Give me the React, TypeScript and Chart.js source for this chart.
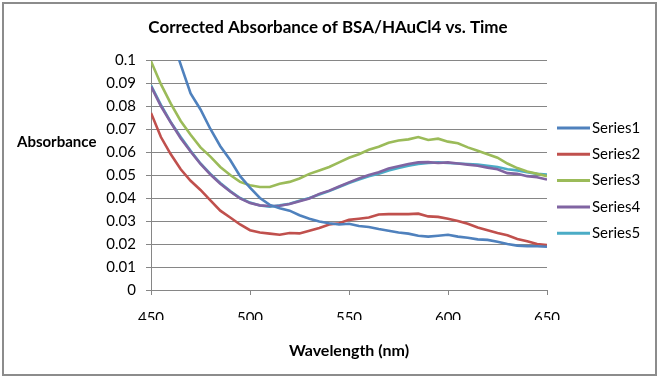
import React, { useEffect, useRef } from "react";
import { Chart, registerables } from "chart.js";

Chart.register(...registerables);

const TITLE = "Corrected Absorbance of BSA/HAuCl4 vs. Time";
const X_TITLE = "Wavelength (nm)";
const Y_TITLE = "Absorbance";

const wavelengths = [
  450, 455, 460, 465, 470, 475, 480, 485, 490, 495, 500, 505, 510, 515, 520, 525, 530, 535, 540, 545,
  550, 555, 560, 565, 570, 575, 580, 585, 590, 595, 600, 605, 610, 615, 620, 625, 630, 635, 640, 645, 650,
];

const series1 = [
  0.137, 0.124, 0.111, 0.098, 0.0855, 0.0785, 0.07, 0.0625, 0.0565, 0.0495, 0.0445, 0.04, 0.037, 0.0355,
  0.0345, 0.0325, 0.031, 0.0298, 0.029, 0.0285, 0.0288, 0.0278, 0.0274, 0.0265, 0.0258, 0.025, 0.0245,
  0.0236, 0.0232, 0.0236, 0.024, 0.0232, 0.0227, 0.022, 0.0218, 0.021, 0.02, 0.0193, 0.019, 0.019, 0.0188,
];
const series2 = [
  0.077, 0.0665, 0.059, 0.0525, 0.0475, 0.0435, 0.039, 0.0345, 0.0315, 0.0285, 0.026, 0.025, 0.0245, 0.024,
  0.0248, 0.0246, 0.0258, 0.027, 0.0285, 0.029, 0.0305, 0.031, 0.0315, 0.0328, 0.033, 0.033, 0.033, 0.0332,
  0.032, 0.0318, 0.031, 0.03, 0.0288, 0.0272, 0.026, 0.0248, 0.0238, 0.0222, 0.0212, 0.02, 0.0195,
];
const series3 = [
  0.0995, 0.0895, 0.081, 0.0735, 0.0675, 0.062, 0.058, 0.0535, 0.05, 0.047, 0.0455, 0.0448, 0.0448, 0.0462,
  0.047, 0.0485, 0.0505, 0.052, 0.0535, 0.0555, 0.0575, 0.059, 0.061, 0.0623, 0.064, 0.065, 0.0655, 0.0665,
  0.0652, 0.0658, 0.0645, 0.0638, 0.062, 0.0605, 0.059, 0.0575, 0.055, 0.053, 0.0515, 0.0505, 0.0495,
];
const series4 = [
  0.0885, 0.08, 0.0728, 0.066, 0.0602, 0.0548, 0.0502, 0.0462, 0.0428, 0.0398, 0.0378, 0.0368, 0.0365,
  0.0366, 0.0374, 0.0386, 0.0398, 0.0418, 0.0432, 0.045, 0.0468, 0.0485, 0.05, 0.0512, 0.0528, 0.0538,
  0.0548, 0.0555, 0.0556, 0.0552, 0.0555, 0.055, 0.0545, 0.054, 0.0532, 0.0525, 0.0508, 0.0505, 0.0495,
  0.049, 0.048,
];
const series5 = [
  0.089, 0.0805, 0.073, 0.0665, 0.0605, 0.055, 0.0505, 0.0465, 0.043, 0.04, 0.038, 0.0367, 0.0362, 0.0368,
  0.0375, 0.0388, 0.04, 0.0415, 0.043, 0.0448, 0.0465, 0.048, 0.0495, 0.0505, 0.052, 0.053, 0.054, 0.0548,
  0.0552, 0.0555, 0.0552, 0.055, 0.0548, 0.0545, 0.054, 0.0535, 0.0525, 0.052, 0.0512, 0.0505, 0.0502,
];

const seriesNames = ["Series1", "Series2", "Series3", "Series4", "Series5"];
const seriesValues = [series1, series2, series3, series4, series5];
const seriesColors = ["#4F81BD", "#C0504D", "#9BBB59", "#8064A2", "#4BACC6"];

const FONT = "Lato, 'Open Sans', sans-serif";
const GRID = "#868686";

const decorPlugin = {
  id: "decor",
  beforeDraw(chart: any) {
    const { ctx, width, height } = chart;
    ctx.save();
    ctx.fillStyle = "#ffffff";
    ctx.fillRect(0, 0, width, height);
    ctx.restore();
  },
  afterDraw(chart: any) {
    const { ctx, chartArea } = chart;
    ctx.save();
    // frame
    ctx.strokeStyle = "#8c8c8c";
    ctx.lineWidth = 2;
    ctx.strokeRect(3, 3, 653, 372);
    // title
    ctx.fillStyle = "#000000";
    ctx.textAlign = "center";
    ctx.textBaseline = "middle";
    ctx.font = `bold 17px ${FONT}`;
    ctx.fillText(TITLE, 328, 28);
    // x title
    ctx.font = `bold 16px ${FONT}`;
    ctx.fillText(X_TITLE, (chartArea.left + chartArea.right) / 2, 351);
    // y title (horizontal)
    ctx.font = `bold 15px ${FONT}`;
    ctx.textAlign = "left";
    ctx.fillText(Y_TITLE, 17, 142);
    // legend
    ctx.font = `15px ${FONT}`;
    chart.data.datasets.forEach((ds: any, i: number) => {
      const y = 128 + i * 26.3;
      ctx.strokeStyle = ds.borderColor;
      ctx.lineWidth = 3;
      ctx.beginPath();
      ctx.moveTo(557, y);
      ctx.lineTo(590, y);
      ctx.stroke();
      ctx.fillStyle = "#000000";
      ctx.textAlign = "left";
      ctx.fillText(ds.label, 592, y);
    });
    ctx.restore();
  },
};

export default function App() {
  const ref = useRef<HTMLCanvasElement | null>(null);
  useEffect(() => {
    document.body.style.margin = "0";
    const canvas = ref.current!;
    const chart = new Chart(canvas, {
      type: "line",
      data: {
        datasets: seriesNames.map((name, i) => ({
          label: name,
          data: wavelengths.map((w, j) => ({ x: w, y: seriesValues[i][j] })),
          borderColor: seriesColors[i],
          backgroundColor: seriesColors[i],
          borderWidth: 2.6,
          pointRadius: 0,
          tension: 0,
          fill: false,
        })),
      },
      options: {
        responsive: false,
        animation: false,
        devicePixelRatio: 1,
        layout: { padding: { left: 81, top: 60, right: 112, bottom: 58 } },
        plugins: {
          legend: { display: false },
          title: { display: false },
          tooltip: { enabled: false },
        },
        scales: {
          x: {
            type: "linear",
            min: 450,
            max: 650,
            afterFit: (s: any) => {
              s.height = 30;
            },
            ticks: {
              stepSize: 50,
              color: "#000000",
              font: { family: FONT, size: 15 },
              padding: 14,
              maxRotation: 0,
            },
            grid: { drawOnChartArea: false, drawTicks: true, tickLength: 5, color: GRID },
            border: { display: true, color: GRID, width: 1 },
          },
          y: {
            min: 0,
            max: 0.1,
            afterFit: (s: any) => {
              s.width = 70;
            },
            ticks: {
              stepSize: 0.01,
              color: "#000000",
              font: { family: FONT, size: 15 },
              padding: 10,
              callback: (v: any) => String(parseFloat(Number(v).toFixed(2))),
            },
            grid: { color: GRID, tickLength: 5, drawTicks: true },
            border: { display: true, color: GRID, width: 1 },
          },
        },
      },
      plugins: [decorPlugin],
    });
    return () => chart.destroy();
  }, []);
  return (
    <div style={{ position: "absolute", left: 0, top: 0, width: 659, height: 378, background: "#fff" }}>
      <canvas ref={ref} width={659} height={378} style={{ display: "block" }} />
    </div>
  );
}
